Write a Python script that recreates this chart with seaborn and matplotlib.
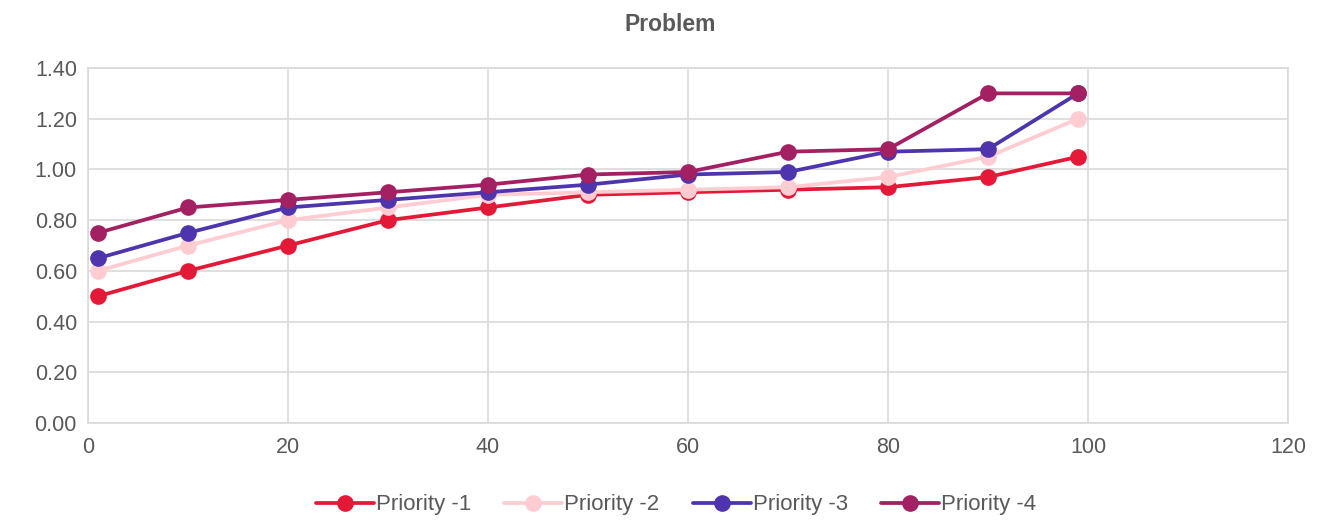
import matplotlib
matplotlib.use("Agg")
import matplotlib.pyplot as plt
import seaborn as sns
import pandas as pd

x = [1, 10, 20, 30, 40, 50, 60, 70, 80, 90, 99]
priority_1 = [0.50, 0.60, 0.70, 0.80, 0.85, 0.90, 0.91, 0.92, 0.93, 0.97, 1.05]
priority_2 = [0.60, 0.70, 0.80, 0.85, 0.90, 0.91, 0.92, 0.93, 0.97, 1.05, 1.20]
priority_3 = [0.65, 0.75, 0.85, 0.88, 0.91, 0.94, 0.98, 0.99, 1.07, 1.08, 1.30]
priority_4 = [0.75, 0.85, 0.88, 0.91, 0.94, 0.98, 0.99, 1.07, 1.08, 1.30, 1.30]

names = ["Priority -1", "Priority -2", "Priority -3", "Priority -4"]
colors = ["#E31937", "#FFCCD2", "#4E35AE", "#A32062"]

rows = []
for name, vals in zip(names, [priority_1, priority_2, priority_3, priority_4]):
    for xi, v in zip(x, vals):
        rows.append({"x": xi, "value": v, "series": name})
df = pd.DataFrame(rows)

sns.set_style("white")
plt.rcParams['font.family'] = ['Liberation Sans', 'DejaVu Sans']

fig = plt.figure(figsize=(13.2, 5.2), dpi=100)
ax = fig.add_axes([0.0667, 0.1865, 0.9091, 0.6827])

sns.lineplot(
    data=df,
    x="x",
    y="value",
    hue="series",
    palette=colors,
    marker="o",
    markersize=12,
    markeredgewidth=0,
    linewidth=2.7,
    ax=ax
)

ax.set_xlim(0, 120)
ax.set_ylim(0, 1.4)
ax.set_xticks(range(0, 121, 20))
ax.set_yticks([i * 0.2 for i in range(8)])
ax.set_yticklabels([f"{i * 0.2:.2f}" for i in range(8)])
ax.grid(True, color="#D9D9D9", linewidth=1.2)
ax.set_axisbelow(True)
for s in ax.spines.values():
    s.set_color("#D9D9D9")
    s.set_linewidth(1.2)
ax.tick_params(axis="both", length=0, labelsize=15.5, colors="#595959", pad=8)
ax.tick_params(axis="x", pad=10)
ax.set_xlabel("")
ax.set_ylabel("")

fig.suptitle("Problem", x=0.508, y=0.975, fontsize=16.5, fontweight="bold", color="#595959")

ax.legend(
    loc="upper center",
    bbox_to_anchor=(0.49, -0.145),
    ncol=4,
    frameon=False,
    fontsize=16,
    labelcolor="#595959",
    handlelength=2.6,
    handletextpad=0.1,
    columnspacing=1.5
)

fig.savefig("out.png", dpi=100)
